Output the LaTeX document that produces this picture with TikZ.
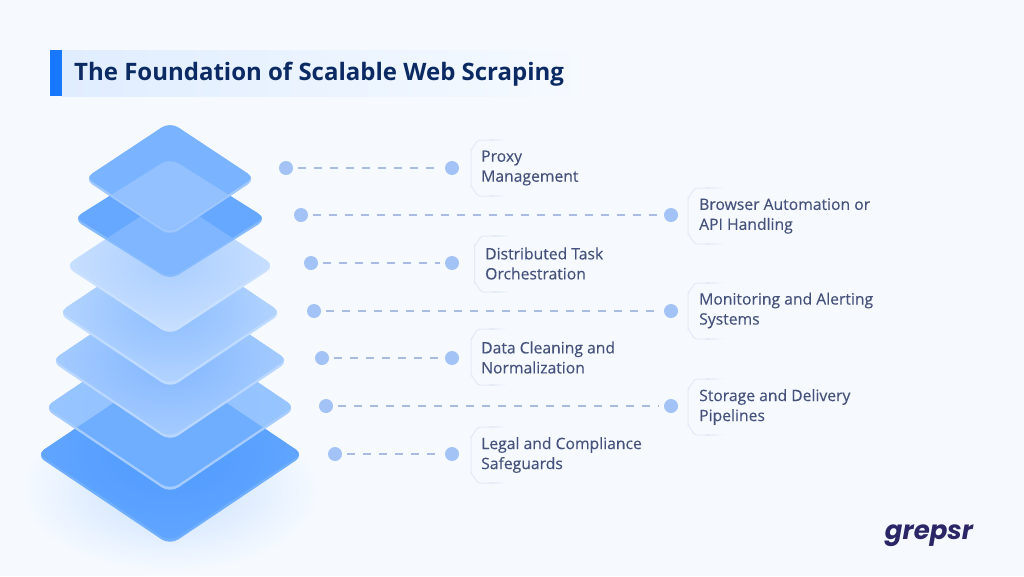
\documentclass[tikz,border=0pt]{standalone}
\usepackage{fontspec}
\setmainfont{Open Sans}
\newfontfamily\labelfont[FakeBold=0.25]{Open Sans}
\newfontfamily\logofont{Poppins}
\definecolor{bgc}{HTML}{F6FAFF}
\definecolor{barc}{HTML}{1877FF}
\definecolor{bandc}{HTML}{E0EDFF}
\definecolor{titlec}{HTML}{0B2A63}
\definecolor{labelc}{HTML}{46527C}
\definecolor{dotc}{HTML}{A3C2F5}
\definecolor{dashc}{HTML}{A9BBE3}
\definecolor{boxc}{HTML}{E4EAF5}
\definecolor{logoc}{HTML}{2B2766}
\definecolor{glowc}{HTML}{C8DFFF}
\definecolor{rA}{HTML}{9FC7FF}\definecolor{fA}{HTML}{7AB3FF}\definecolor{oA}{HTML}{93C0FF}
\definecolor{rB}{HTML}{86BAFF}\definecolor{fB}{HTML}{66A8FF}\definecolor{oB}{HTML}{7FB6FF}
\definecolor{rC}{HTML}{C9E0FF}\definecolor{iC}{HTML}{AACEFF}\definecolor{fC}{HTML}{C8DFFF}
\definecolor{rD}{HTML}{BFDBFF}\definecolor{iD}{HTML}{8CBDFF}\definecolor{fD}{HTML}{B4D4FF}
\definecolor{rE}{HTML}{B8D6FF}\definecolor{iE}{HTML}{82B6FF}\definecolor{fE}{HTML}{A6CCFF}
\definecolor{rF}{HTML}{A6CCFF}\definecolor{iF}{HTML}{8FC0FF}\definecolor{fF}{HTML}{98C5FF}\definecolor{oF}{HTML}{6EADFF}
\definecolor{rG}{HTML}{6FAEFF}\definecolor{iG}{HTML}{4F9AFF}\definecolor{fG}{HTML}{61A5FF}
\tikzset{
  dotn/.style={circle,fill=dotc,minimum size=14pt,inner sep=0pt},
  conn/.style={draw=dashc,line width=1.2pt,dash pattern=on 8pt off 8pt,shorten <=5pt,shorten >=5pt},
  labeln/.style={anchor=west,inner sep=0pt,align=left,text=labelc,font=\labelfont\fontsize{15.7}{20}\selectfont},
  rnd/.style={rounded corners=10pt},
}
% #2 hw, #3 cy, #4 hh : rounded rhombus around x=170
\newcommand{\rh}[4][]{\path[rnd,#1] ({170-#2},{#3}) -- (170,{#3-#4}) -- ({170+#2},{#3}) -- (170,{#3+#4}) -- cycle;}
% #1 hw #2 cy #3 hh #4 rim #5 inner #6 outer
\newcommand{\layer}[6]{%
  \rh[fill=#4]{#1}{#2}{#3}
  \begin{scope}
    \clip[rnd] ({170-#1},#2) -- (170,{#2-#3}) -- ({170+#1},#2) -- (170,{#2+#3}) -- cycle;
    \rh[shade,inner color=#5,outer color=#6]{#1}{#2-3}{#3}
  \end{scope}}
% overlap: part of lower rhombus seen through the upper one
\newcommand{\overlap}[7]{%
  \begin{scope}
    \clip[rnd] ({170-#1},#2-3) -- (170,{#2-3-#3}) -- ({170+#1},#2-3) -- (170,{#2-3+#3}) -- cycle;
    \rh[fill=#7]{#4}{#5}{#6}
  \end{scope}}
\newcommand{\bracket}[2]{%
  \draw[boxc,line width=1pt] (#1+18,#2) -- (#1+9,#2) to[out=180,in=-90] (#1,#2+9) -- (#1,#2+47) to[out=90,in=180] (#1+9,#2+56) -- (#1+18,#2+56);
  \shade[left color=boxc,right color=bgc] (#1+18,#2-.5) rectangle (#1+36,#2+.5);
  \shade[left color=boxc,right color=bgc] (#1+18,#2+55.5) rectangle (#1+36,#2+56.5);}
\begin{document}
\begin{tikzpicture}[x=1pt,y=-1pt]
\useasboundingbox (0,0) rectangle (1024,576);
\fill[bgc] (0,0) rectangle (1024,576);
% title
\shade[left color=bandc,right color=bgc] (62,50) rectangle (590,96);
\fill[barc] (50,50) rectangle (62,96);
\node[anchor=west,inner sep=0pt,text=titlec,font=\fontsize{24}{28}\selectfont\bfseries] (title) at (74,74) {The Foundation of Scalable Web Scraping};
% glow
\shade[inner color=glowc,outer color=bgc] (170,490) ellipse [x radius=150,y radius=82];
% stack, bottom to top
\layer{134}{455}{90}{rG}{iG}{fG}
\layer{126}{408}{85}{rF}{iF}{fF}
\overlap{126}{408}{85}{134}{455}{90}{oF}
\layer{119}{361}{80}{rE}{iE}{fE}
\layer{112}{313}{75}{rD}{iD}{fD}
\layer{105}{266}{69}{rC}{iC}{fC}
\layer{97}{219}{61}{rB}{fB}{fB}
\overlap{97}{219}{61}{105}{266}{69}{oB}
\layer{86}{179}{57}{rA}{fA}{fA}
\overlap{86}{179}{57}{97}{219}{61}{oA}
% dots
\node[dotn] (a1) at (286,168) {};
\node[dotn] (b1) at (452,168) {};
\node[dotn] (a2) at (301,215) {};
\node[dotn] (b2) at (671,215) {};
\node[dotn] (a3) at (311,263) {};
\node[dotn] (b3) at (452,263) {};
\node[dotn] (a4) at (314,311) {};
\node[dotn] (b4) at (671,311) {};
\node[dotn] (a5) at (322,358) {};
\node[dotn] (b5) at (452,358) {};
\node[dotn] (a6) at (326,406) {};
\node[dotn] (b6) at (671,406) {};
\node[dotn] (a7) at (335,454) {};
\node[dotn] (b7) at (452,454) {};
\foreach \i in {1,...,7} {\draw[conn] (a\i) -- (b\i);}
% label brackets
\bracket{471}{140}
\bracket{688}{188}
\bracket{474.5}{236}
\bracket{688}{283}
\bracket{471}{329}
\bracket{688}{379}
\bracket{471}{427}
% labels
\node[labeln] (l1) at (481,168) {Proxy\\Management};
\node[labeln] (l2) at (699,216) {Browser Automation or\\API Handling};
\node[labeln] (l3) at (485,263.5) {Distributed Task\\Orchestration};
\node[labeln] (l4) at (699,310.5) {Monitoring and Alerting\\Systems};
\node[labeln] (l5) at (481,357.5) {Data Cleaning and\\Normalization};
\node[labeln] (l6) at (699,407) {Storage and Delivery\\Pipelines};
\node[labeln] (l7) at (481,455) {Legal and Compliance\\Safeguards};
% logo
\node[anchor=center,inner sep=0pt,text=logoc,font=\logofont\fontsize{26}{30}\selectfont\bfseries\itshape] (logo) at (929,535.5) {grepsr};
\end{tikzpicture}
\end{document}
